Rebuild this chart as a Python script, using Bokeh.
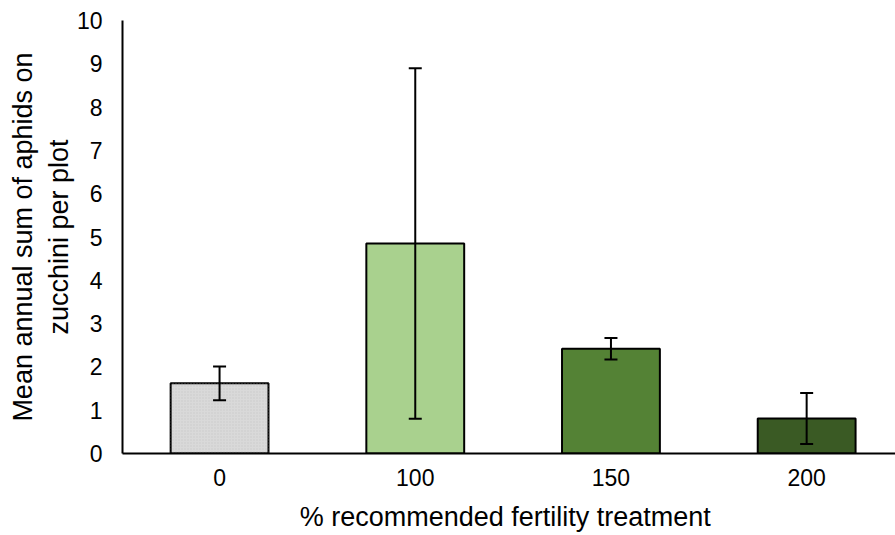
from bokeh.plotting import figure
from bokeh.models import ColumnDataSource, Whisker, TeeHead, FixedTicker, Range1d
from bokeh.embed import file_html
from bokeh.resources import INLINE

# Fertility treatments (% of recommended rate) and aphid counts
treatments = ["0", "100", "150", "200"]
mean_aphids = [1.62, 4.85, 2.42, 0.81]
std_error = [0.39, 4.05, 0.25, 0.59]
bar_colors = ["#d9d9d9", "#a9d18e", "#548235", "#3a5a24"]

xpos = list(range(len(treatments)))
src = ColumnDataSource(dict(
    x=xpos,
    top=mean_aphids,
    upper=[m + e for m, e in zip(mean_aphids, std_error)],
    lower=[m - e for m, e in zip(mean_aphids, std_error)],
    color=bar_colors,
))

FONT = "Liberation Sans"

p = figure(width=895, height=535, output_backend="svg", toolbar_location=None,
           x_range=Range1d(-0.496, 3.454), y_range=Range1d(0, 10),
           min_border_left=122, min_border_right=0, min_border_top=20,
           min_border_bottom=82)
p.outline_line_color = None
p.grid.grid_line_color = None

p.vbar(x="x", top="top", width=0.5, source=src, fill_color="color",
       line_color="black", line_width=2)
# stippled texture on the control bar
p.vbar(x=[0], top=[mean_aphids[0]], width=0.5, fill_color=None, line_color=None,
       hatch_pattern=".", hatch_color="#bdbdbd", hatch_scale=3, hatch_alpha=0.6)

p.add_layout(Whisker(source=src, base="x", upper="upper", lower="lower",
                     line_color="black", line_width=2, level="overlay",
                     upper_head=TeeHead(size=13, line_color="black", line_width=2),
                     lower_head=TeeHead(size=13, line_color="black", line_width=2)))

p.xaxis.ticker = FixedTicker(ticks=xpos)
p.xaxis.major_label_overrides = {i: t for i, t in enumerate(treatments)}
p.yaxis.ticker = FixedTicker(ticks=list(range(0, 11)))

for ax in (p.xaxis, p.yaxis):
    ax.axis_line_color = "black"
    ax.axis_line_width = 2
    ax.major_tick_line_color = None
    ax.minor_tick_line_color = None
    ax.major_label_text_font = FONT
    ax.major_label_text_font_size = "23px"
    ax.major_label_text_color = "#000000"
    ax.axis_label_text_font = FONT
    ax.axis_label_text_font_size = "27px"
    ax.axis_label_text_font_style = "normal"
    ax.axis_label_text_color = "#000000"

p.xaxis.major_label_standoff = 9
p.yaxis.major_label_standoff = 14
p.xaxis.axis_label = "% recommended  fertility treatment"
p.xaxis.axis_label_standoff = 13
p.yaxis.axis_label = "Mean annual sum of aphids on\nzucchini per plot"
p.yaxis.axis_label_standoff = 0

open("out.html", "w").write(file_html(p, INLINE))
